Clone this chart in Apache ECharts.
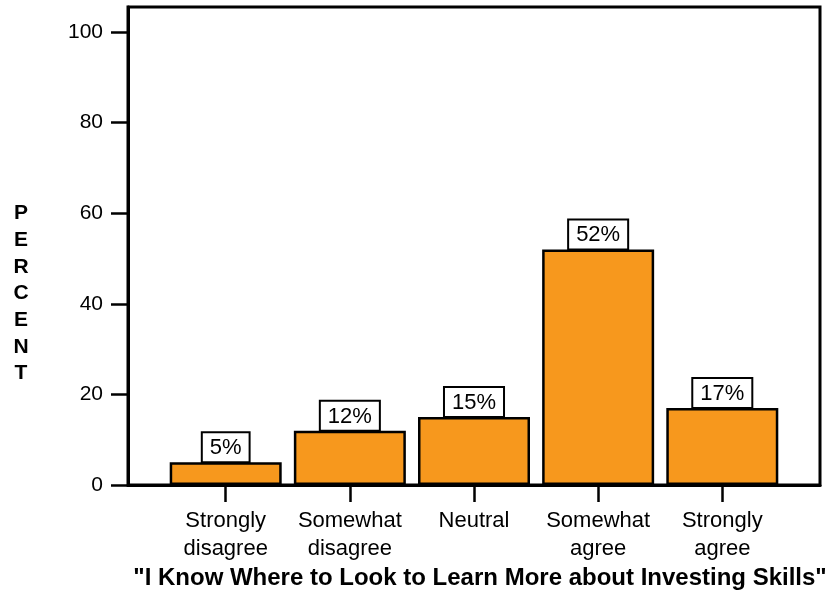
<!DOCTYPE html>
<html>
<head>
<meta charset="utf-8">
<script src="https://cdn.jsdelivr.net/npm/echarts@6/dist/echarts.min.js"></script>
<style>
  html, body { margin: 0; padding: 0; background: #fff; }
  #chart { width: 827px; height: 592px; }
</style>
</head>
<body>
<div id="chart"></div>
<script>
// Survey responses: share of respondents per agreement level
const categories = ['Strongly\ndisagree', 'Somewhat\ndisagree', 'Neutral', 'Somewhat\nagree', 'Strongly\nagree'];
const percents = [5, 12, 15, 52, 17];
const yTicks = [0, 20, 40, 60, 80, 100];
const xTitle = '"I Know Where to Look to Learn More about Investing Skills"';
const yTitle = 'PERCENT';

const FONT = '"Liberation Sans", Arial, Helvetica, sans-serif';
const catIndex = categories.map((_, i) => i);

const chart = echarts.init(document.getElementById('chart'), null, { renderer: 'canvas' });

chart.setOption({
  animation: false,
  backgroundColor: '#ffffff',
  grid: {
    left: 128, right: 7, top: 7, bottom: 107,
    show: true, borderColor: '#000', borderWidth: 3, backgroundColor: 'transparent'
  },
  xAxis: {
    type: 'value',
    min: -0.787, max: 4.787,
    axisLine: { show: true, onZero: false, lineStyle: { color: '#000', width: 3 } },
    axisTick: { show: true, customValues: catIndex, length: 17, lineStyle: { color: '#000', width: 2.5 } },
    axisLabel: {
      customValues: catIndex,
      formatter: v => categories[Math.round(v)],
      fontFamily: FONT, fontSize: 22, color: '#000',
      lineHeight: 28, margin: 22
    },
    splitLine: { show: false }
  },
  yAxis: {
    type: 'value',
    min: 0, max: 105.5,
    axisLine: { show: true, onZero: false, lineStyle: { color: '#000', width: 3 } },
    axisTick: { show: true, customValues: yTicks, length: 17, lineStyle: { color: '#000', width: 2.5 } },
    axisLabel: {
      customValues: yTicks,
      fontFamily: FONT, fontSize: 21, color: '#000', margin: 25
    },
    splitLine: { show: false }
  },
  graphic: [
    {
      type: 'text',
      x: 21, y: 200,
      style: {
        text: yTitle.split('').join('\n'),
        font: 'bold 21px ' + FONT,
        lineHeight: 26.7,
        fill: '#000',
        align: 'center'
      }
    },
    {
      type: 'text',
      x: 480, y: 578,
      style: {
        text: xTitle,
        font: 'bold 24px ' + FONT,
        fill: '#000',
        align: 'center',
        verticalAlign: 'middle'
      }
    }
  ],
  series: [{
    type: 'bar',
    data: percents.map((v, i) => [i, v]),
    barWidth: 112,
    itemStyle: { color: '#F7981D', borderColor: '#000', borderWidth: 2.5 },
    label: {
      show: true,
      position: 'top',
      distance: 1,
      formatter: p => p.value[1] + '%',
      fontFamily: FONT, fontSize: 22, color: '#000',
      backgroundColor: '#fff',
      borderColor: '#000', borderWidth: 2,
      padding: [4, 7, 2, 7]
    }
  }]
});
</script>
</body>
</html>
